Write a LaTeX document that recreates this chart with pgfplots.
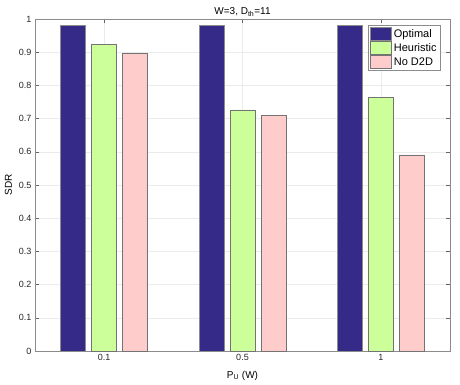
\documentclass[border=0pt]{standalone}
\usepackage{fontspec}
\setmainfont{Liberation Sans}
\usepackage{pgfplots}
\pgfplotsset{compat=1.18}
\definecolor{optc}{RGB}{53,42,135}
\definecolor{heuc}{RGB}{204,255,153}
\definecolor{nodc}{RGB}{255,204,204}
\definecolor{gridc}{RGB}{235,235,235}
\definecolor{axc}{RGB}{140,140,140}
\begin{document}
\begin{tikzpicture}
\begin{axis}[
    scale only axis,
    width=415pt, height=332pt,
    at={(0,0)}, anchor=south west,
    ybar=6pt, bar width=25pt,
    xmin=-0.5, xmax=2.5,
    ymin=0, ymax=1,
    xtick={0,1,2},
    xticklabels={0.1,0.5,1},
    ytick={0,0.1,...,1},
    yticklabels={0,0.1,0.2,0.3,0.4,0.5,0.6,0.7,0.8,0.9,1},
    tick align=inside,
    major tick length=4pt,
    tick style={black!60, line width=0.5pt},
    axis line style={axc, line width=0.6pt},
    grid=major,
    major grid style={gridc, line width=0.5pt},
    tick label style={font=\fontsize{9}{10}\selectfont, color=black!85},
    title={W=3, D\textsubscript{th}=11},
    title style={font=\fontsize{10}{11}\selectfont, yshift=-7pt},
    xlabel={P\textsubscript{U} (W)},
    ylabel={SDR},
    label style={font=\fontsize{10}{11}\selectfont},
    xlabel style={yshift=-3pt},
    ylabel style={yshift=0pt},
    legend style={at={(0.978,0.982)}, anchor=north east,
        draw=black!45, line width=0.5pt, font=\fontsize{11}{13}\selectfont,
        row sep=0.5pt, inner xsep=2pt, inner ysep=2pt},
    legend cell align=left,
    legend image code/.code={\draw[#1, bar width=0pt] (0pt,-6.5pt) rectangle (21pt,6.5pt);},
]
\addplot[fill=optc, draw=black!45, line width=0.5pt] coordinates {(0,0.980) (1,0.980) (2,0.980)};
\addplot[fill=heuc, draw=black!55, line width=0.5pt] coordinates {(0,0.924) (1,0.726) (2,0.764)};
\addplot[fill=nodc, draw=black!55, line width=0.5pt] coordinates {(0,0.897) (1,0.710) (2,0.591)};
\legend{Optimal, Heuristic, No D2D}
\end{axis}
\pgfresetboundingbox
\path (-35pt,-33pt) rectangle (425pt,351pt);
\end{tikzpicture}
\end{document}
